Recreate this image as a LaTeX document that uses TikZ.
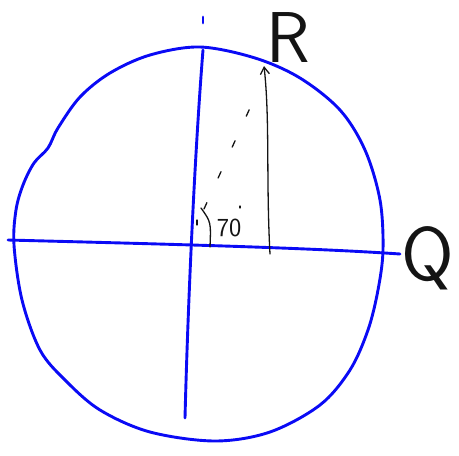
\documentclass[tikz,border=0pt]{standalone}
\usetikzlibrary{arrows.meta}
\definecolor{penblue}{RGB}{10,10,245}
\definecolor{penblack}{RGB}{20,20,20}

\begin{document}
\begin{tikzpicture}[x=1pt,y=-1pt,line cap=round,line join=round,
  blueink/.style={penblue,line width=2.9pt},
  blackink/.style={penblack,line width=1.3pt},
  handtext/.style={penblack,inner sep=0pt,font=\sffamily}]
  \useasboundingbox (0,0) rectangle (459,456);
  % the circle, drawn by hand
  \draw[blueink] plot[smooth cycle,tension=0.55] coordinates {
    (48,148) (58,128) (80,97) (110,73) (150,55) (200,47) (255,58)
    (300,78) (340,110) (365,150) (380,200) (383,250) (378,290)
    (368,330) (350,370) (320,405) (270,432) (215,441) (150,432)
    (100,410) (65,380) (40,350) (22,300) (14,245) (16,210) (23,185) (34,163)};
  % axes
  \coordinate (W) at (8,240);
  \coordinate (E) at (400,254);
  \coordinate (N) at (203,50);
  \coordinate (S) at (185,418);
  \draw[blueink] (W) .. controls (120,243) and (300,247) .. (E);
  \draw[blueink] (N) .. controls (195,150) and (188,300) .. (S);
  \draw[blueink] (203,17) -- (203,23);
  % point R and its height
  \node[handtext,font=\sffamily\fontsize{72}{72}\selectfont] (R) at (288,38) {R};
  \node[handtext,font=\sffamily\fontsize{76}{76}\selectfont] (Q) at (428,258) {Q};
  \coordinate (foot) at (270,254);
  \coordinate (tip) at (264,66);
  \draw[blackink,-{Straight Barb[length=7pt,width=9pt]}] (foot) .. controls (266,180) and (270,120) .. (tip);
  % radius to R, dashed
  \coordinate (O) at (204,209);
  \coordinate (Rr) at (250,108);
  \draw[blackink,dash pattern=on 7pt off 27pt] (O) -- (Rr);
  % the angle
  \draw[blackink] (201,208) .. controls (211,222) .. (210,247);
  \draw[blackink] (197,220) -- (197,225);
  \draw[blackink] (240,206) -- (240,208);
  \node[handtext,font=\sffamily\fontsize{26}{26}\selectfont] (ang) at (229,228) {70};
\end{tikzpicture}
\end{document}
